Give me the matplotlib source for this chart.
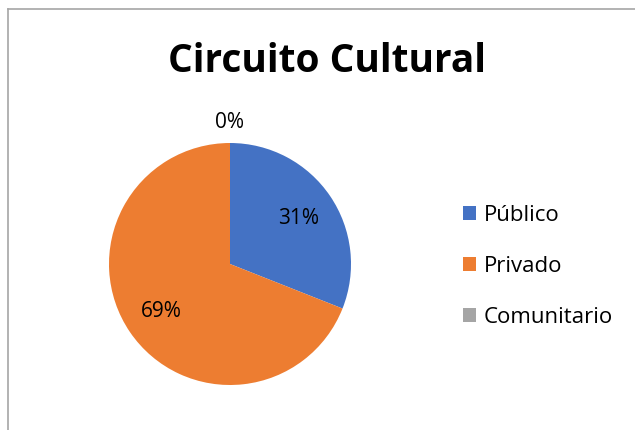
import matplotlib.pyplot as plt
from matplotlib.lines import Line2D
from matplotlib.patches import Patch

# data
categories = ["Público", "Privado", "Comunitario"]
values = [31, 69, 0]
colors = ["#4472C4", "#ED7D31", "#A5A5A5"]

W, H = 635, 431
fig = plt.figure(figsize=(W / 100, H / 100), dpi=100)
plt.rcParams['font.family'] = ['Open Sans', 'DejaVu Sans']

# chart border (gray, only left and top visible)
fig.add_artist(Line2D([8 / W, 8 / W], [0, 1 - 10 / H], color="#A6A6A6", lw=1.2, transform=fig.transFigure))
fig.add_artist(Line2D([8 / W, 1], [1 - 10 / H, 1 - 10 / H], color="#A6A6A6", lw=1.2, transform=fig.transFigure))

# pie axes: center (230, 265), radius 121 px
cx, cy, r = 230, 265, 121
ax = fig.add_axes([(cx - r) / W, (H - cy - r) / H, 2 * r / W, 2 * r / H])
wedges, texts, autotexts = ax.pie(values, colors=colors, startangle=90, counterclock=False,
                                  autopct='%1.0f%%', pctdistance=0.69,
                                  textprops={'fontsize': 15, 'color': 'black'},
                                  wedgeprops={'linewidth': 0})
# zero slice label sits outside
autotexts[2].set_position((0, 1.18))
ax.set_xlim(-1, 1)
ax.set_ylim(-1, 1)
ax.set_aspect('equal')
ax.axis('off')

fig.text(327 / W, 1 - 62 / H, "Circuito Cultural", ha='center', va='center',
         fontsize=28, fontweight='bold')

handles = [Patch(facecolor=c, edgecolor='none') for c in colors]
fig.legend(handles, categories, loc='center left', bbox_to_anchor=(443 / W, 1 - 267 / H),
           frameon=False, fontsize=16, handlelength=0.6, handleheight=0.6,
           handletextpad=0.35, labelspacing=1.35)

fig.savefig("out.png", dpi=100)
